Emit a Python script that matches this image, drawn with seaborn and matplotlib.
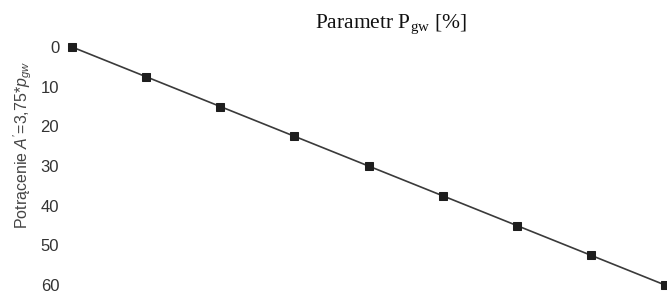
import matplotlib
import matplotlib.pyplot as plt
import numpy as np
import pandas as pd
import seaborn as sns

matplotlib.use("Agg")

# Parametr p_gw [%] and the resulting deduction A' = 3.75 * p_gw
p_gw = [0, 2, 4, 6, 8, 10, 12, 14, 16]
potracenie = [0, 7.5, 15, 22.5, 30, 37.5, 45, 52.5, 60]
y_ticks = [0, 10, 20, 30, 40, 50, 60]

sns.set_style("white")
plt.rcParams["font.family"] = ["Liberation Sans", "DejaVu Sans"]
plt.rcParams["mathtext.fontset"] = "custom"
plt.rcParams["mathtext.rm"] = "Liberation Serif"
plt.rcParams["mathtext.sf"] = "Liberation Sans"
plt.rcParams["mathtext.it"] = "Liberation Sans:italic"

df = pd.DataFrame({"p": p_gw, "a": potracenie})

fig = plt.figure(figsize=(6.67, 2.96), dpi=100)
ax = fig.add_axes([62 / 667, 4 / 296, 605 / 667, 252 / 296])

sns.lineplot(
    data=df, x="p", y="a", ax=ax,
    color="#3a3a3a", linewidth=1.2,
    marker="s", markersize=5.5,
    markerfacecolor="#1e1e1e", markeredgecolor="#1e1e1e",
)
for line in ax.lines:
    line.set_clip_on(False)

px_per_unit_x = (665 - 72) / 16
ax.set_xlim(-10 / px_per_unit_x, 16 + 2 / px_per_unit_x)
px_per_unit_y = (285 - 47) / 60
ax.set_ylim(60 + 7 / px_per_unit_y, -7 / px_per_unit_y)

ax.set_xticks([])
ax.set_yticks(y_ticks)
ax.tick_params(axis="y", length=0, pad=2, labelsize=12, labelcolor="#333333")
ax.set_xlabel("")
ax.set_ylabel("Potrącenie $A^{\\prime}$=3,75*$p_{gw}$", fontsize=11.5, color="#444444")
ax.yaxis.set_label_coords((34 - 62) / 605, 1 - (145 - 40) / 252)
sns.despine(ax=ax, left=True, bottom=True)

fig.text(
    391 / 667, 1 - 25 / 296,
    "Parametr P$_{\\mathrm{gw}}$ [%]",
    ha="center", va="center", fontsize=15.5,
    family=["Liberation Serif", "DejaVu Serif"], color="#111111",
)

fig.savefig("out.png", dpi=100)
